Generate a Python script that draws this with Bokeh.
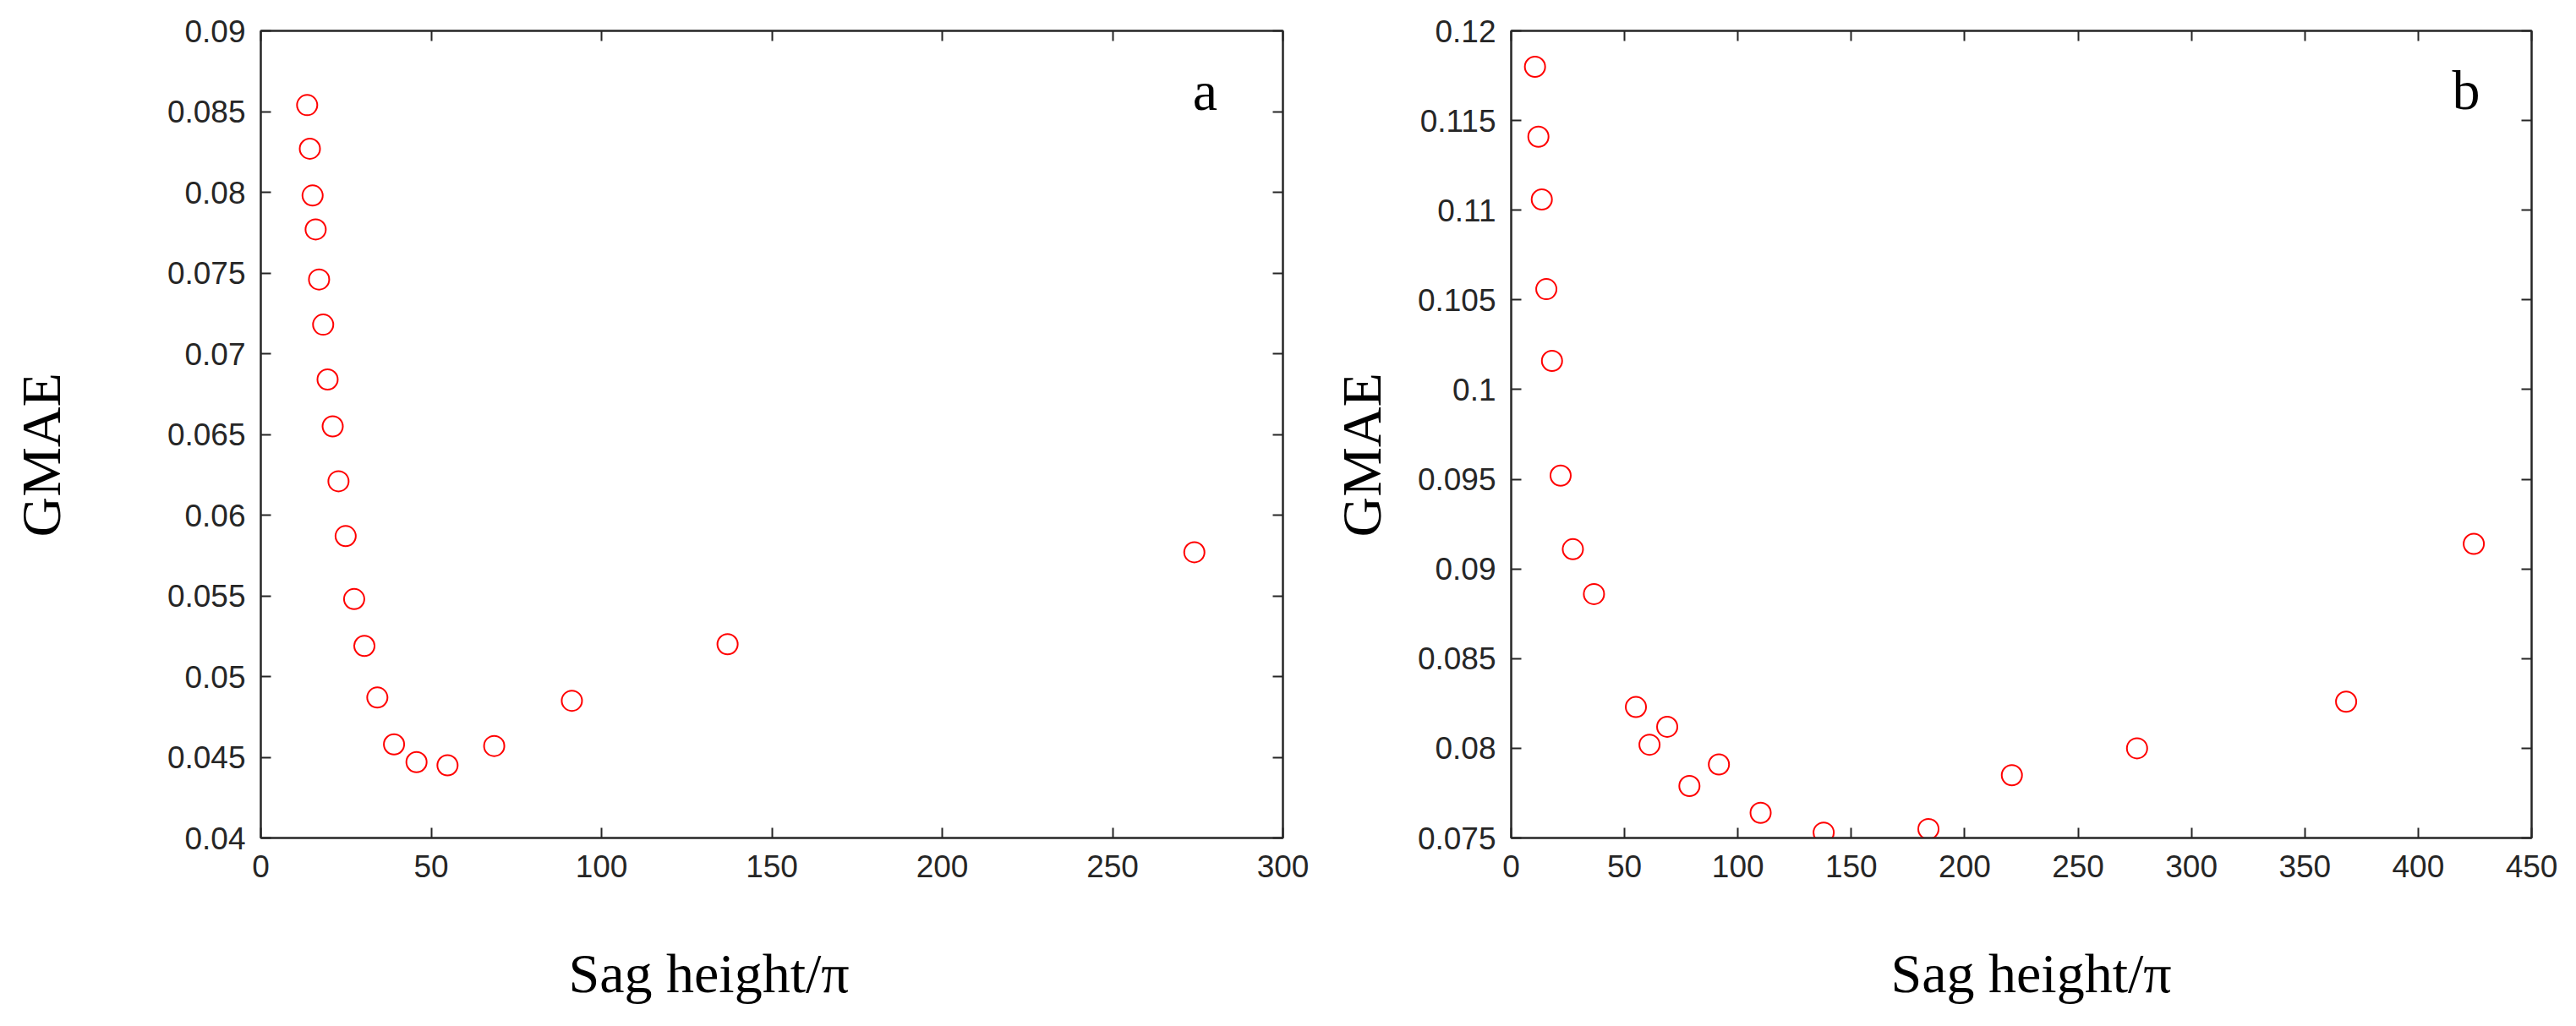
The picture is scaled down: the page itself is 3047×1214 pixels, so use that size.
from bokeh.plotting import figure
from bokeh.layouts import row
from bokeh.models import Range1d, LinearAxis, FixedTicker, Label, Title
from bokeh.embed import file_html
from bokeh.resources import INLINE

# panel a: GMAE against sag height / pi
sag_a = [13.6, 14.4, 15.2, 16.1, 17.1, 18.3, 19.6, 21.1, 22.8, 24.9,
         27.4, 30.4, 34.2, 39.1, 45.7, 54.8, 68.5, 91.3, 137.0, 274.0]
gmae_a = [0.0854, 0.0827, 0.0798, 0.0777, 0.0746, 0.0718, 0.0684, 0.0655, 0.0621, 0.0587,
          0.0548, 0.0519, 0.0487, 0.0458, 0.0447, 0.0445, 0.0457, 0.0485, 0.0520, 0.0577]

# panel b
sag_b = [10.5, 12.0, 13.5, 15.5, 18.0, 21.8, 27.2, 36.5, 55.0, 61.0,
         68.8, 78.6, 91.6, 110.0, 137.8, 184.0, 220.8, 276.0, 368.2, 424.5]
gmae_b = [0.1180, 0.1141, 0.1106, 0.1056, 0.1016, 0.0952, 0.0911, 0.0886, 0.0823, 0.0802,
          0.0812, 0.0779, 0.0791, 0.0764, 0.0753, 0.0755, 0.0785, 0.0800, 0.0826, 0.0914]

xticks_a = [0, 50, 100, 150, 200, 250, 300]
yticks_a = [0.04, 0.045, 0.05, 0.055, 0.06, 0.065, 0.07, 0.075, 0.08, 0.085, 0.09]
ylabels_a = ["0.04", "0.045", "0.05", "0.055", "0.06", "0.065", "0.07", "0.075", "0.08", "0.085", "0.09"]

xticks_b = [0, 50, 100, 150, 200, 250, 300, 350, 400, 450]
yticks_b = [0.075, 0.08, 0.085, 0.09, 0.095, 0.1, 0.105, 0.11, 0.115, 0.12]
ylabels_b = ["0.075", "0.08", "0.085", "0.09", "0.095", "0.1", "0.105", "0.11", "0.115", "0.12"]

AXIS_COLOR = "#262626"
SANS = "Liberation Sans"
SERIF = "Liberation Serif"


def style_axis(ax, ticks, labels=None):
    ax.ticker = FixedTicker(ticks=ticks)
    ax.axis_line_color = AXIS_COLOR
    ax.axis_line_width = 2
    ax.major_tick_line_color = AXIS_COLOR
    ax.major_tick_line_width = 2
    ax.major_tick_in = 12
    ax.major_tick_out = 0
    ax.minor_tick_line_color = None
    if labels is None:
        # box-side axes: ticks only
        ax.major_label_text_color = None
        ax.major_label_text_font_size = "1px"
        ax.major_label_standoff = 0
    else:
        ax.major_label_overrides = dict(zip(ticks, labels))
        ax.major_label_text_font = SANS
        ax.major_label_text_font_size = "37px"
        ax.major_label_text_color = AXIS_COLOR


def spacer(tick, gap):
    # blank axis (white tick on white) that only pushes the axis title outwards
    return LinearAxis(ticker=FixedTicker(ticks=[tick]), axis_line_color=None,
                      major_tick_line_color="white", minor_tick_line_color=None,
                      major_tick_in=0, major_tick_out=gap,
                      major_label_text_color=None, major_label_text_font_size="1px",
                      major_label_standoff=0)


def axis_title(text, offset, valign):
    return Title(text=text, align="left", offset=offset, vertical_align=valign,
                 standoff=0, text_font=SERIF, text_font_size="66px",
                 text_font_style="normal", text_color="black")


def make_panel(x, y, xlim, ylim, xticks, yticks, ylabels, width, borders,
               tag, tag_pos, ygap, xtitle_offset):
    left, right, top, bottom = borders
    p = figure(width=width, height=1206,
               x_range=Range1d(*xlim), y_range=Range1d(*ylim),
               output_backend="svg", toolbar_location=None,
               min_border_left=left, min_border_right=right,
               min_border_top=top, min_border_bottom=bottom)
    p.grid.visible = False
    p.outline_line_color = AXIS_COLOR
    p.outline_line_width = 2
    p.background_fill_color = "white"
    p.border_fill_color = "white"

    xax = p.xaxis[0]
    style_axis(xax, xticks, [str(t) for t in xticks])
    xax.major_label_standoff = 20

    yax = p.yaxis[0]
    style_axis(yax, yticks, ylabels)
    yax.major_label_standoff = 18

    top_ax = LinearAxis()
    style_axis(top_ax, xticks)
    p.add_layout(top_ax, "above")
    right_ax = LinearAxis()
    style_axis(right_ax, yticks)
    p.add_layout(right_ax, "right")

    # axis titles sit a little off-centre in the original, so use offset titles
    p.add_layout(spacer(xlim[0], 74), "below")
    p.add_layout(axis_title("Sag height/\u03c0", xtitle_offset, "top"), "below")
    p.add_layout(spacer(ylim[0], ygap), "left")
    p.add_layout(axis_title("GMAE", 356, "bottom"), "left")

    p.scatter(x, y, marker="circle", size=24, fill_color=None,
              line_color="#ff0000", line_width=2)

    p.add_layout(Label(x=tag_pos[0], y=tag_pos[1], text=tag,
                       text_font=SERIF, text_font_size="66px", text_color="black",
                       text_align="left", text_baseline="middle"))
    return p


pa = make_panel(sag_a, gmae_a, (0, 300), (0.04, 0.09), xticks_a, yticks_a, ylabels_a,
                1560, (308, 43, 33, 215), "a", (273.5, 0.0863), 110, 364)
pb = make_panel(sag_b, gmae_b, (0, 450), (0.075, 0.12), xticks_b, yticks_b, ylabels_b,
                1487, (227, 53, 36, 215), "b", (415.0, 0.1167), 27, 449)

layout = row(pa, pb)
open("out.html", "w").write(file_html(layout, INLINE))
